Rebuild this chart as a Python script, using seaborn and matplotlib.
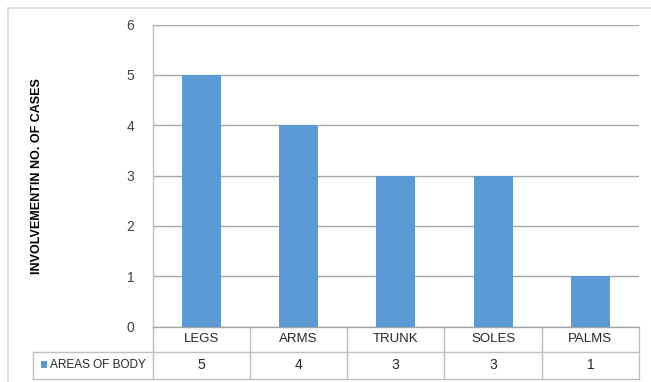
import matplotlib
matplotlib.use("Agg")
import matplotlib.pyplot as plt
import matplotlib.transforms as mtransforms
from matplotlib.patches import Rectangle
import seaborn as sns
import pandas as pd

categories = ["LEGS", "ARMS", "TRUNK", "SOLES", "PALMS"]
values = [5, 4, 3, 3, 1]
series_name = "AREAS OF BODY"
y_label = "INVOLVEMENTIN NO. OF CASES"
y_ticks = [0, 1, 2, 3, 4, 5, 6]

sns.set_theme(style="white")
plt.rcParams['font.family'] = ['Liberation Sans', 'DejaVu Sans']

BAR = "#5B9BD5"
GRID = "#A6A6A6"
TBL = "#BFBFBF"
W, H = 651, 382

fig = plt.figure(figsize=(W / 100, H / 100), dpi=100)
fig.patch.set_facecolor("white")

left_px, right_px, zero_px, top_px = 152.5, 639, 326.5, 24.5
ax = fig.add_axes([left_px / W, (H - zero_px) / H, (right_px - left_px) / W, (zero_px - top_px) / H])

df = pd.DataFrame({"cat": categories, "val": values})
sns.barplot(data=df, x="cat", y="val", width=0.4, color=BAR, saturation=1, ax=ax,
            zorder=3, linewidth=0)

ax.set_xlim(-0.5, len(categories) - 0.5)
ax.set_ylim(0, 6)
ax.set_yticks(y_ticks)
ax.set_yticklabels([str(t) for t in y_ticks], fontsize=10, color="#404040")
ax.tick_params(axis="y", length=0, pad=13)
ax.set_xticks([])
ax.set_xlabel("")
ax.set_ylabel("")
ax.yaxis.grid(True, color=GRID, lw=1)
ax.set_axisbelow(True)
for s in ["top", "right"]:
    ax.spines[s].set_visible(False)
ax.spines["left"].set_color(TBL)
ax.spines["bottom"].set_color(GRID)
ax.spines["left"].set_linewidth(1)
ax.spines["bottom"].set_linewidth(1)

# data table beneath the plot
ph = zero_px - top_px
pw = right_px - left_px
r1 = -(352 - zero_px) / ph
r2 = -(378.5 - zero_px) / ph
tx = -(left_px - 33) / pw
trans = mtransforms.blended_transform_factory(ax.transData, ax.transAxes)
lk = dict(color=TBL, lw=1, clip_on=False)
n = len(categories)
ax.plot([tx, 1], [r1, r1], transform=ax.transAxes, **lk)
ax.plot([tx, 1], [r2, r2], transform=ax.transAxes, **lk)
ax.plot([tx, tx], [r1, r2], transform=ax.transAxes, **lk)
ax.plot([0, 0], [0, r2], transform=ax.transAxes, **lk)
for i in range(n):
    ax.plot([i + 0.5, i + 0.5], [0, r2], transform=trans, **lk)
for i, (c, v) in enumerate(zip(categories, values)):
    ax.text(i, r1 / 2, c, transform=trans, ha="center", va="center", fontsize=9.5, color="#262626", clip_on=False)
    ax.text(i, (r1 + r2) / 2, str(v), transform=trans, ha="center", va="center", fontsize=10, color="#262626", clip_on=False)

# legend key in the table
fig.patches.append(Rectangle((41 / W, (H - 368) / H), 6 / W, 7 / H, transform=fig.transFigure,
                             facecolor=BAR, edgecolor="none"))
fig.text(50 / W, (H - 365) / H, series_name, ha="left", va="center", fontsize=8.5, color="#262626")

# y axis title
fig.text(37 / W, (H - 176) / H, y_label, rotation=90, ha="center", va="center",
         fontsize=9, fontweight="bold", color="#000000")

# outer chart border
fig.add_artist(plt.Line2D([7.5 / W, 7.5 / W], [0, (H - 8) / H], transform=fig.transFigure, color="#D9D9D9", lw=1.2))
fig.add_artist(plt.Line2D([7.5 / W, 1], [(H - 8) / H, (H - 8) / H], transform=fig.transFigure, color="#D9D9D9", lw=1.2))

fig.savefig("out.png", dpi=100, facecolor="white")
